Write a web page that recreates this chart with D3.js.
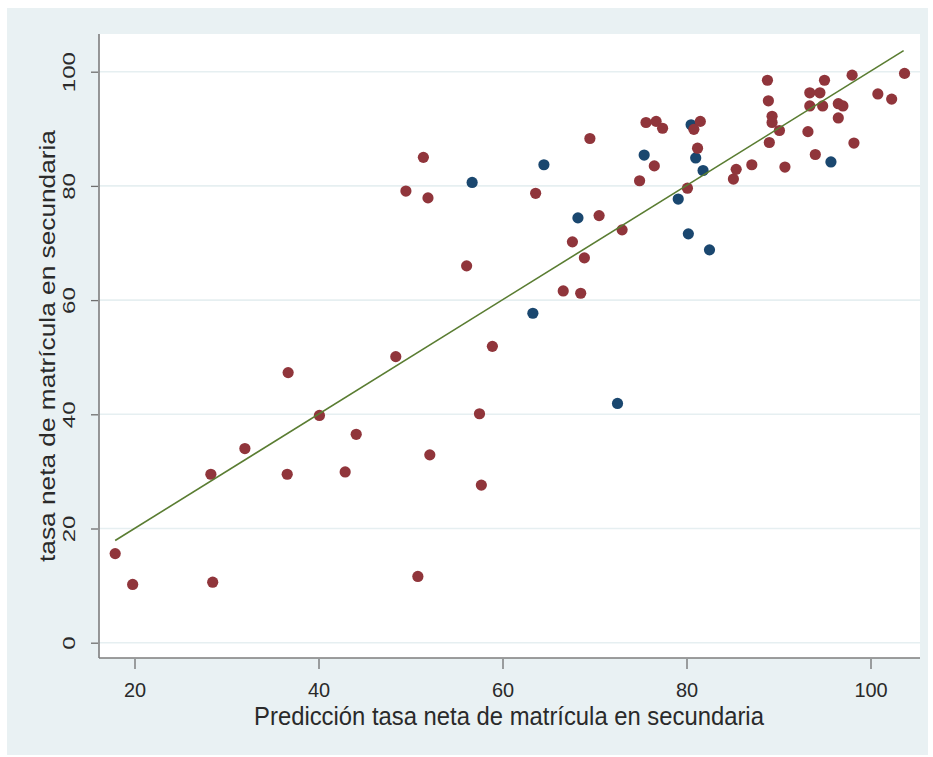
<!DOCTYPE html>
<html>
<head>
<meta charset="utf-8">
<script src="https://cdn.jsdelivr.net/npm/d3@7"></script>
<style>
  html, body { margin: 0; padding: 0; background: #ffffff; }
  svg { display: block; }
  text { font-family: "Liberation Sans", Arial, Helvetica, sans-serif; fill: #2a2a2a; }
</style>
</head>
<body>
<svg id="chart" width="933" height="757"></svg>
<script>
// ---- data ----
const redPoints = [
  [17.9,15.6],[19.8,10.2],[28.5,10.6],[50.8,11.6],[28.3,29.5],[36.6,29.5],[42.9,29.9],[52.1,32.9],
  [57.7,27.6],[32.0,34.0],[44.1,36.5],[40.1,39.8],[57.5,40.1],[36.7,47.3],[48.4,50.1],[58.9,51.9],
  [56.1,66.0],[66.6,61.6],[68.5,61.2],[68.9,67.4],[67.6,70.2],[73.0,72.3],[70.5,74.8],[63.6,78.7],
  [49.5,79.1],[51.9,77.9],[51.4,85.0],[69.5,88.3],[74.9,80.9],[76.5,83.5],[80.1,79.6],[75.6,91.1],
  [76.7,91.3],[77.4,90.1],[81.5,91.3],[80.8,89.9],[81.2,86.6],[85.1,81.2],[85.4,82.9],[87.1,83.7],
  [90.7,83.3],[94.0,85.5],[89.0,87.6],[98.2,87.5],[90.1,89.7],[93.2,89.5],[89.3,91.1],[89.3,92.2],
  [96.5,91.9],[93.4,94.0],[94.8,94.0],[96.5,94.4],[97.0,94.0],[88.9,94.9],[93.4,96.3],[94.5,96.3],
  [88.8,98.5],[95.0,98.5],[98.0,99.4],[103.7,99.7],[100.8,96.1],[102.3,95.2]
];
const bluePoints = [
  [56.7,80.6],[64.5,83.7],[68.2,74.4],[75.4,85.4],[80.5,90.7],[81.0,84.9],[81.8,82.7],
  [79.1,77.7],[80.2,71.6],[82.5,68.8],[95.7,84.2],[63.3,57.7],[72.5,41.9]
];
const fitLine = [[17.9,17.9],[103.6,103.7]];
const xTicks = [20, 40, 60, 80, 100];
const yTicks = [0, 20, 40, 60, 80, 100];
const xTitle = "Predicción tasa neta de matrícula en secundaria";
const yTitle = "tasa neta de matrícula en secundaria";

// ---- layout ----
const svg = d3.select("#chart");
const plotL = 99, plotR = 920, plotT = 34, plotB = 658;
const x = d3.scaleLinear().domain([20, 100]).range([134.5, 870.5]);
const y = d3.scaleLinear().domain([0, 100]).range([642.7, 71.7]);

// outer background
svg.append("rect").attr("x", 7).attr("y", 8).attr("width", 921).attr("height", 747)
  .attr("fill", "#e9f1f3");
// plot region
svg.append("rect").attr("x", plotL).attr("y", plotT).attr("width", plotR - plotL).attr("height", plotB - plotT)
  .attr("fill", "#ffffff");

// gridlines
svg.append("g").selectAll("line").data(yTicks).join("line")
  .attr("x1", plotL).attr("x2", plotR)
  .attr("y1", d => y(d)).attr("y2", d => y(d))
  .attr("stroke", "#e6eff1").attr("stroke-width", 1.6);

// axes lines
svg.append("line").attr("x1", plotL).attr("x2", plotL).attr("y1", plotT).attr("y2", plotB)
  .attr("stroke", "#7d7d7d").attr("stroke-width", 1.6);
svg.append("line").attr("x1", plotL).attr("x2", plotR).attr("y1", plotB).attr("y2", plotB)
  .attr("stroke", "#7d7d7d").attr("stroke-width", 1.6);

// x axis via d3 axis
const xAxis = d3.axisBottom(x).tickValues(xTicks).tickSize(10).tickPadding(0).tickFormat(d3.format("d"));
const gx = svg.append("g").attr("transform", `translate(0,${plotB + 1})`).call(xAxis);
gx.select(".domain").remove();
gx.selectAll(".tick line").attr("stroke", "#6f6f6f").attr("stroke-width", 1.3);
gx.selectAll(".tick text").attr("font-size", 21).attr("fill", "#2a2a2a")
  .attr("dy", null).attr("y", 0)
  .attr("transform", "translate(0,38) scale(0.95,0.95)");

// y axis via d3 axis
const yAxis = d3.axisLeft(y).tickValues(yTicks).tickSize(7).tickPadding(0).tickFormat(d3.format("d"));
const gy = svg.append("g").attr("transform", `translate(${plotL - 1},0)`).call(yAxis);
gy.select(".domain").remove();
gy.selectAll(".tick line").attr("stroke", "#6f6f6f").attr("stroke-width", 1.3);
gy.selectAll(".tick text").attr("font-size", 24).attr("fill", "#2a2a2a")
  .attr("x", 0).attr("dy", null).attr("text-anchor", "middle")
  .attr("transform", "translate(-23,0) rotate(-90) scale(1,0.7)");

// points
svg.append("g").selectAll("circle").data(bluePoints).join("circle")
  .attr("cx", d => x(d[0])).attr("cy", d => y(d[1])).attr("r", 5.6)
  .attr("fill", "#1a476f");
svg.append("g").selectAll("circle").data(redPoints).join("circle")
  .attr("cx", d => x(d[0])).attr("cy", d => y(d[1])).attr("r", 5.6)
  .attr("fill", "#90353b");

// fitted line
svg.append("path").datum(fitLine)
  .attr("d", d3.line().x(d => x(d[0])).y(d => y(d[1])))
  .attr("fill", "none").attr("stroke", "#5a7d32").attr("stroke-width", 1.6);

// x title
const xt = svg.append("text").attr("text-anchor", "middle").attr("font-size", 24).text(xTitle);
let w = xt.node().getComputedTextLength();
let fs = 24 * 510 / w;
xt.attr("font-size", fs);
const syX = 18 / (0.716 * fs);
xt.attr("transform", `translate(509,725) scale(1,${syX})`);

// y title
const yt = svg.append("text").attr("text-anchor", "middle").attr("font-size", 26).text(yTitle);
w = yt.node().getComputedTextLength();
fs = 26 * 432 / w;
yt.attr("font-size", fs).attr("transform", `translate(55,346) rotate(-90) scale(1,0.85)`);
</script>
</body>
</html>
